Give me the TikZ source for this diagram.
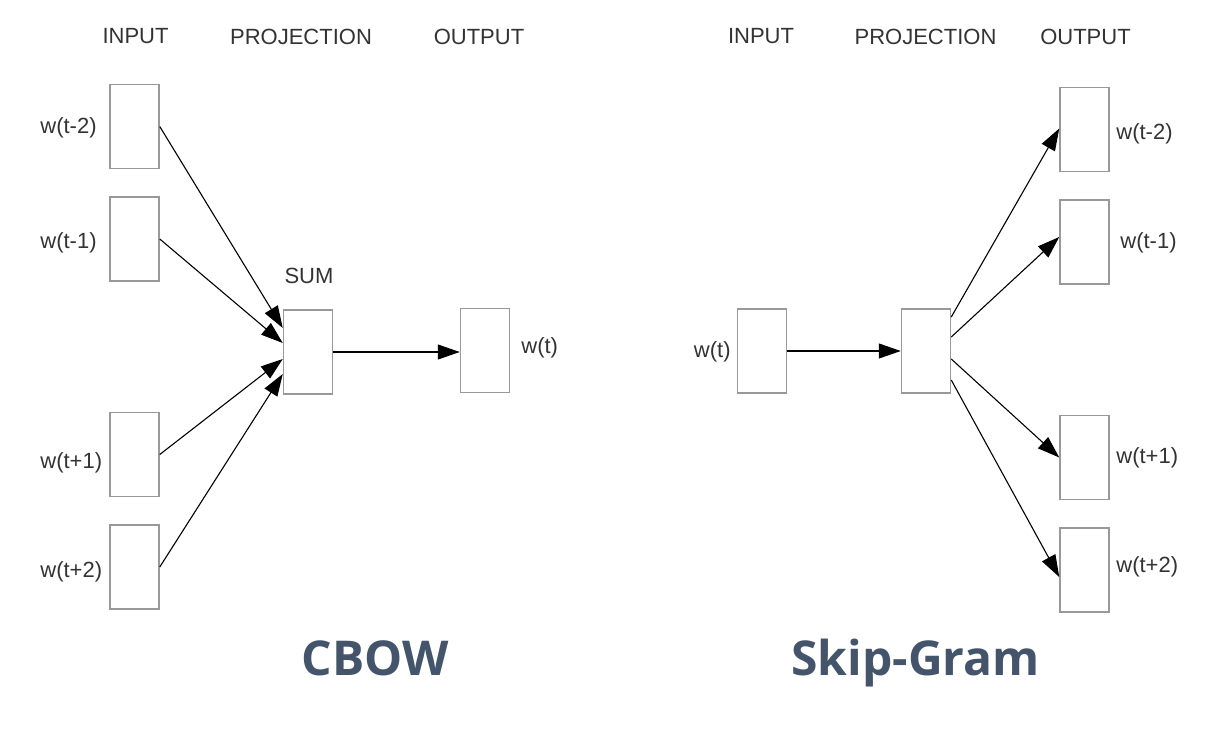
\documentclass[tikz,border=0pt]{standalone}
\usepackage{fontspec}
\setmainfont{Liberation Sans}
\newfontfamily\titlefont{Open Sans}
\usepackage{xcolor}
\usepackage{tikz}
\usetikzlibrary{arrows.meta,calc}
\definecolor{slate}{RGB}{68,84,106}

\begin{document}
\begin{tikzpicture}[x=0.5pt,y=-0.5pt,font=\fontsize{11}{13}\selectfont,
  >={Triangle[length=11pt,width=7.5pt]},
  vec/.style={draw=black!40,line width=0.75pt,fill=white,inner sep=0pt,
    minimum width=24.5pt,minimum height=42pt},
  hd/.style={text=black!80,inner sep=1pt},
  wlab/.style={text=black!80,inner sep=0pt},
  conn/.style={->,line width=0.55pt},
  ttl/.style={font=\titlefont\bfseries\fontsize{24}{28}\selectfont,text=slate,inner sep=0pt}]
  \useasboundingbox (0,0) rectangle (1214,728);
  % column heads
  \foreach \x/\n/\t in {135.5/ci/INPUT,301/cp/PROJECTION,479/co/OUTPUT,
                        761/si/INPUT,925.5/sp/PROJECTION,1085.5/so/OUTPUT}
    \node[hd] (h\n) at (\x,36.5) {\t};

  % CBOW
  \node[vec] (sum) at (308,352) {};
  \node[hd] (sumlab) at (309,275.5) {SUM};
  \node[vec] (cout) at (485,350.5) {};
  \node[wlab,anchor=west] (coutlab) at (521,348) {w(t)};
  \foreach \y/\n/\t/\ly/\o in {126.5/a/w(t-2)/128/-24,239/b/w(t-1)/243/-9,
                               454.5/c/w(t+1)/463/7,567/d/w(t+2)/572/22}{
    \node[vec] (cin\n) at (134.5,\y) {};
    \node[wlab,anchor=west] (cl\n) at (40,\ly) {\t};
    \draw[conn] (cin\n.east) -- ($(sum.west)+(0,\o)$);
  }
  \draw[conn] (sum.east) -- (sum.east -| cout.west);
  \node[ttl,anchor=base] (cbow) at (375,675) {CBOW};

  % Skip-Gram
  \node[vec] (sin) at (762,351) {};
  \node[wlab,anchor=east] (sinlab) at (731,352) {w(t)};
  \node[vec] (proj) at (926,351) {};
  \draw[conn] (sin.east) -- (proj.west);
  \foreach \y/\n/\t/\lx/\ly/\o/\e in {129.5/a/w(t-2)/1116/134/-34/-1,242/b/w(t-1)/1120/243/-14/-5,
                                      457.5/c/w(t+1)/1116/458/8/0,570/d/w(t+2)/1116/567/29/7}{
    \node[vec] (sout\n) at (1084.5,\y) {};
    \node[wlab,anchor=west] (sl\n) at (\lx,\ly) {\t};
    \draw[conn] ($(proj.east)+(0,\o)$) -- ($(sout\n.west)+(0,\e)$);
  }
  \node[ttl,anchor=base] (skip) at (915.5,675) {Skip-Gram};
\end{tikzpicture}
\end{document}
